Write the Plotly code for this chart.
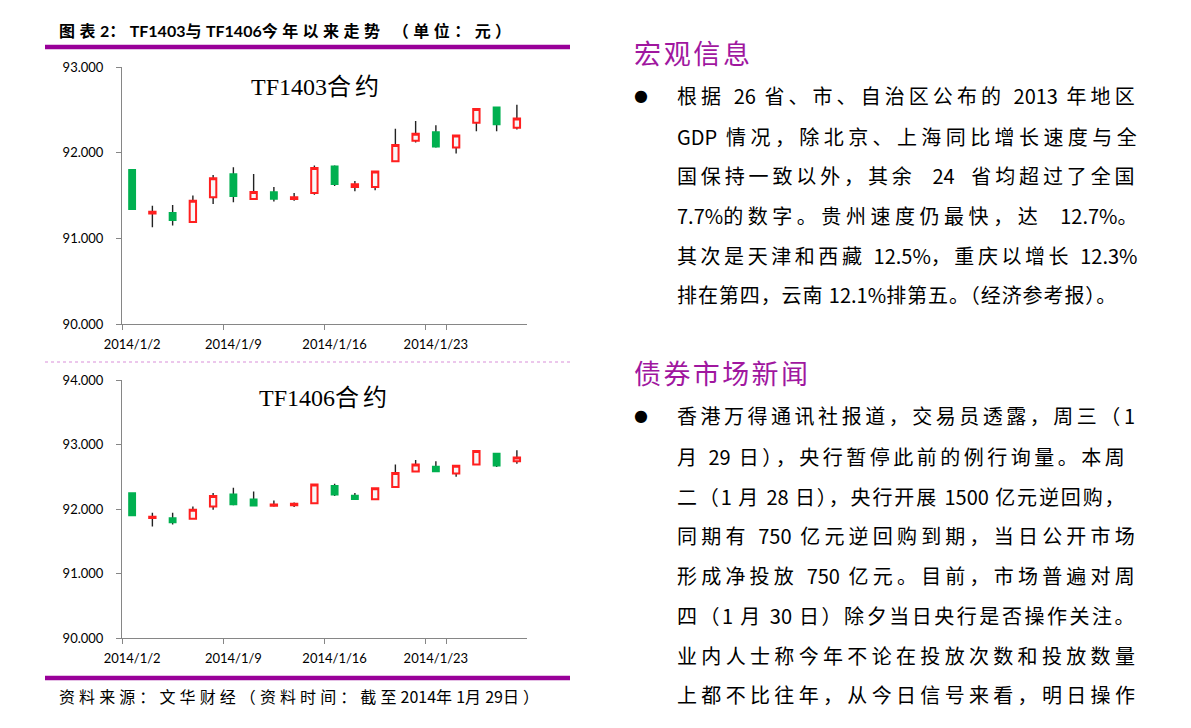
import plotly.graph_objects as go

# page body has an 8px default margin: size/offset the figure to compensate
OX, OY = 8, 8
W, H = 1175, 712

dates = ["2014/1/2", "2014/1/3", "2014/1/6", "2014/1/7", "2014/1/8", "2014/1/9", "2014/1/10",
         "2014/1/13", "2014/1/14", "2014/1/15", "2014/1/16", "2014/1/17", "2014/1/20", "2014/1/21",
         "2014/1/22", "2014/1/23", "2014/1/24", "2014/1/27", "2014/1/28", "2014/1/29"]
tick_labels = ["2014/1/2", "2014/1/9", "2014/1/16", "2014/1/23"]

tf1403_open = [91.80, 91.29, 91.30, 91.19, 91.48, 91.75, 91.46, 91.54, 91.46, 91.53,
               91.84, 91.60, 91.60, 91.90, 92.14, 92.24, 92.06, 92.35, 92.53, 92.29]
tf1403_high = [91.80, 91.38, 91.39, 91.50, 91.74, 91.83, 91.75, 91.60, 91.53, 91.85,
               91.85, 91.67, 91.78, 92.28, 92.37, 92.32, 92.20, 92.52, 92.53, 92.56]
tf1403_low = [91.34, 91.13, 91.15, 91.19, 91.40, 91.42, 91.46, 91.43, 91.44, 91.51,
              91.61, 91.55, 91.56, 91.90, 92.12, 92.06, 91.99, 92.25, 92.25, 92.27]
tf1403_close = [91.34, 91.31, 91.21, 91.44, 91.70, 91.49, 91.54, 91.46, 91.48, 91.82,
                91.63, 91.63, 91.78, 92.09, 92.22, 92.07, 92.20, 92.51, 92.33, 92.40]

tf1406_open = [92.25, 91.86, 91.86, 91.85, 92.04, 92.23, 92.15, 92.05, 92.06, 92.09,
               92.36, 92.21, 92.15, 92.34, 92.58, 92.66, 92.55, 92.69, 92.86, 92.74]
tf1406_high = [92.25, 91.94, 91.94, 92.04, 92.25, 92.33, 92.27, 92.13, 92.10, 92.38,
               92.39, 92.25, 92.32, 92.69, 92.76, 92.74, 92.67, 92.90, 92.86, 92.91]
tf1406_low = [91.90, 91.73, 91.76, 91.85, 91.99, 92.06, 92.05, 92.04, 92.03, 92.09,
              92.20, 92.15, 92.15, 92.34, 92.58, 92.58, 92.50, 92.69, 92.65, 92.70]
tf1406_close = [91.90, 91.88, 91.79, 91.99, 92.20, 92.07, 92.05, 92.07, 92.08, 92.38,
                92.22, 92.15, 92.32, 92.56, 92.69, 92.58, 92.67, 92.90, 92.67, 92.80]

chart_title = "图表2：TF1403与TF1406今年以来走势 （单位：元）"
sub1 = "TF1403合约"
sub2 = "TF1406合约"
source = "资料来源：文华财经（资料时间：截至2014年1月29日）"

head1 = "宏观信息"
para1 = [
    "根据 26 省、市、自治区公布的 2013 年地区",
    "GDP 情况，除北京、上海同比增长速度与全",
    "国保持一致以外，其余  24  省均超过了全国",
    "7.7%的数字。贵州速度仍最快，达  12.7%。",
    "其次是天津和西藏 12.5%，重庆以增长 12.3%",
    "排在第四，云南 12.1%排第五。（经济参考报）。",
]
head2 = "债券市场新闻"
para2 = [
    "香港万得通讯社报道，交易员透露，周三（1",
    "月 29 日），央行暂停此前的例行询量。本周",
    "二（1 月 28 日），央行开展 1500 亿元逆回购，",
    "同期有 750 亿元逆回购到期，当日公开市场",
    "形成净投放 750 亿元。目前，市场普遍对周",
    "四（1 月 30 日）除夕当日央行是否操作关注。",
    "业内人士称今年不论在投放次数和投放数量",
    "上都不比往年，从今日信号来看，明日操作",
]

RED = "#ff1f1f"
GREEN = "#00b050"
PURPLE = "#990099"
AXC = "#868686"


def px(x):
    return (x - OX) / W


def py(y):
    return 1 - (y - OY) / H


def is_wide(ch):
    return ord(ch) > 0x2E80 or ch in "（）：，。、 "


def char_w(ch):
    if ch == " ":
        return 0.23
    if is_wide(ch):
        return 1.0
    if ch == "%":
        return 0.85
    if ch == ".":
        return 0.28
    if ch.isdigit():
        return 0.555
    if ch.isupper():
        return 0.64
    return 0.5


def spaced(t, size, target):
    nat = sum(char_w(c) for c in t) * size
    n_wide = sum(1 for c in t[:-1] if is_wide(c))
    ls = max((target - nat) / max(n_wide, 1), 0)
    runs = []
    for c in t:
        w = is_wide(c)
        if runs and runs[-1][0] == w:
            runs[-1][1] += c
        else:
            runs.append([w, c])
    out = ""
    for w, s in runs:
        sp = ls if w else 0.0
        out += f'<span style="letter-spacing:{sp:.2f}px">{s}</span>'
    return out


fig = go.Figure()


def add_candles(o, h, l, c, xa, ya):
    mid = [(a + b) / 2 for a, b in zip(o, c)]
    bh = [max(a, b) for a, b in zip(o, c)]
    bl = [min(a, b) for a, b in zip(o, c)]
    fig.add_trace(go.Candlestick(
        x=dates, open=mid, high=h, low=l, close=mid, xaxis=xa, yaxis=ya,
        increasing=dict(line=dict(color="#222222", width=1.4), fillcolor="rgba(0,0,0,0)"),
        decreasing=dict(line=dict(color="#222222", width=1.4), fillcolor="rgba(0,0,0,0)"),
        whiskerwidth=0, showlegend=False, hoverinfo="skip"))
    fig.add_trace(go.Candlestick(
        x=dates, open=o, high=bh, low=bl, close=c, xaxis=xa, yaxis=ya,
        increasing=dict(line=dict(color=RED, width=2), fillcolor="#f7f7f7"),
        decreasing=dict(line=dict(color=GREEN, width=1.5), fillcolor=GREEN),
        whiskerwidth=0, showlegend=False))


add_candles(tf1403_open, tf1403_high, tf1403_low, tf1403_close, "x", "y")
add_candles(tf1406_open, tf1406_high, tf1406_low, tf1406_close, "x2", "y2")

xdom = [px(122), px(527)]
tickfont = dict(family="Lato, Liberation Sans, sans-serif", size=13, color="#000000")
xcommon = dict(type="category", categoryorder="array", categoryarray=dates,
               range=[-0.5, 19.5], tickvals=tick_labels, ticktext=tick_labels,
               tickson="boundaries", ticks="outside", ticklen=5, tickcolor=AXC, tickangle=0,
               showline=True, linecolor=AXC, linewidth=1, showgrid=False, zeroline=False,
               rangeslider=dict(visible=False), tickfont=tickfont, domain=xdom,
               fixedrange=True, automargin=False, ticklabelstandoff=8)
ycommon = dict(ticks="outside", ticklen=5, tickcolor=AXC, showline=True, linecolor=AXC,
               linewidth=1, showgrid=False, zeroline=False, tickformat=".3f", dtick=1,
               tickfont=tickfont, ticklabelstandoff=10, automargin=False, fixedrange=True)

fig.update_layout(
    width=W, height=H, autosize=False,
    margin=dict(l=0, r=0, t=0, b=0, pad=0, autoexpand=False),
    paper_bgcolor="white", plot_bgcolor="white",
    boxgap=0.55, boxmode="overlay",
    xaxis=dict(**xcommon, anchor="y"),
    yaxis=dict(**ycommon, range=[90, 93], domain=[py(324), py(67)], anchor="x"),
    xaxis2=dict(**xcommon, anchor="y2"),
    yaxis2=dict(**ycommon, range=[90, 94], domain=[py(638), py(380)], anchor="x2"),
    showlegend=False,
)

ann = []
cjk = "Noto Sans CJK SC, sans-serif"
serif_cjk = "Liberation Serif, Noto Sans CJK SC, serif"
ann.append(dict(text="<b>" + spaced(chart_title, 16, 452) + "</b>", x=px(57), y=py(30),
                xanchor="left", yanchor="middle",
                font=dict(family="Lato, Noto Sans CJK SC, sans-serif", size=16, color="#000")))
ann.append(dict(text=spaced(sub1, 24, 136), x=px(249), y=py(87), xanchor="left", yanchor="middle",
                font=dict(family=serif_cjk, size=24, color="#000")))
ann.append(dict(text=spaced(sub2, 24, 136), x=px(257), y=py(398), xanchor="left", yanchor="middle",
                font=dict(family=serif_cjk, size=24, color="#000")))
ann.append(dict(text=spaced(source, 16, 480), x=px(57), y=py(696), xanchor="left", yanchor="middle",
                font=dict(family=cjk, size=16, color="#000")))

ann.append(dict(text=spaced(head1, 27, 116), x=px(632), y=py(53), xanchor="left", yanchor="middle",
                font=dict(family=cjk, size=27, color="#a0179f")))
ann.append(dict(text=spaced(head2, 27, 174), x=px(632), y=py(373), xanchor="left", yanchor="middle",
                font=dict(family=cjk, size=27, color="#a0179f")))

para1_y = [96, 136, 175, 215, 255, 295]
para2_y = [416, 456, 496, 535, 575, 615, 655, 694]
for t, yy in zip(para1 + para2, para1_y + para2_y):
    ann.append(dict(text=spaced(t, 20, 458), x=px(675), y=py(yy), xanchor="left", yanchor="middle",
                    font=dict(family=cjk, size=20, color="#000")))
for yy in (96, 416):
    ann.append(dict(text="●", x=px(641), y=py(yy), xanchor="center", yanchor="middle",
                    font=dict(family="DejaVu Sans", size=16, color="#000")))

for a in ann:
    a.update(xref="paper", yref="paper", showarrow=False)
fig.update_layout(annotations=ann)

shapes = [
    dict(type="line", xref="paper", yref="paper", x0=px(45), x1=px(570), y0=py(47), y1=py(47),
         line=dict(color=PURPLE, width=4.5)),
    dict(type="line", xref="paper", yref="paper", x0=px(45), x1=px(570), y0=py(362), y1=py(362),
         line=dict(color="#d98fd9", width=1, dash="dot")),
    dict(type="line", xref="paper", yref="paper", x0=px(45), x1=px(570), y0=py(678), y1=py(678),
         line=dict(color=PURPLE, width=4.5)),
]
fig.update_layout(shapes=shapes)

fig.write_html("out.html")
